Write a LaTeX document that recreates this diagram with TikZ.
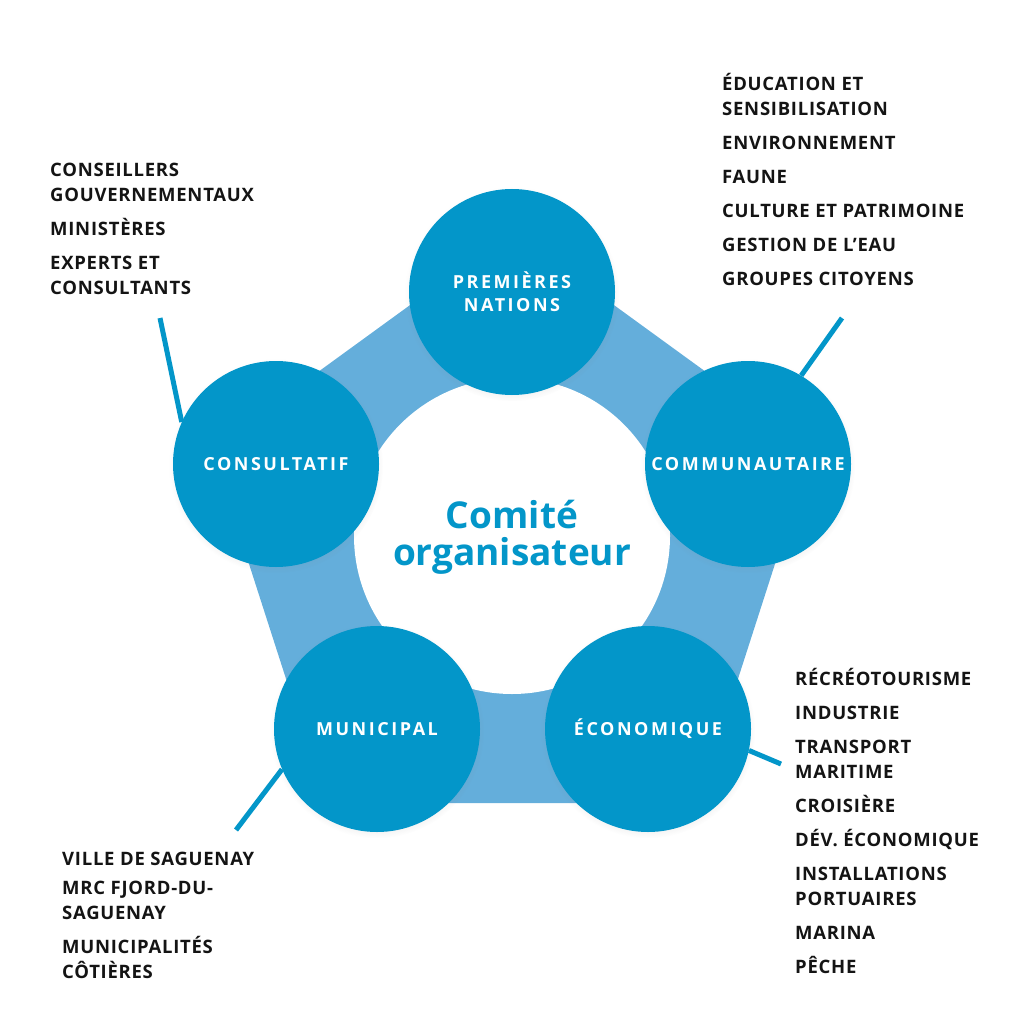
\documentclass[tikz,border=0pt]{standalone}
\usepackage{fontspec}
\setmainfont{Open Sans}
\newfontfamily\itemfont{Open Sans}[LetterSpace=4]
\newfontfamily\roundfont{Open Sans}[LetterSpace=14]
\usetikzlibrary{shadows}

\definecolor{circblue}{HTML}{0396C9}
\definecolor{bandblue}{HTML}{64AEDB}
\definecolor{inkblack}{HTML}{141414}

\begin{document}
\begin{tikzpicture}[x=1pt, y=-1pt,
    group/.style={circle, fill=circblue, minimum size=206pt, inner sep=0pt,
      text=white, font=\roundfont\bfseries\fontsize{18}{23}\selectfont, align=center,
      circular drop shadow={shadow scale=1.04, shadow xshift=0pt, shadow yshift=-2pt, opacity=0.18}},
    tick/.style={draw=circblue, line width=5pt},
    members/.style={anchor=north west, inner sep=0pt, text=inkblack, align=left,
      font=\itemfont\bfseries\fontsize{18.5}{25}\selectfont}]

    \useasboundingbox (0,0) rectangle (1024,1024);

    % outer band and the empty middle
    \fill[bandblue] (512,231) -- (812,449) -- (698,803) -- (326,803) -- (212,449) -- cycle;
    \fill[white] (512,536) circle (158pt);

    \node(center) at (512,537) [text=circblue, align=center,
      font=\bfseries\fontsize{37}{37}\selectfont] {Comité\\organisateur};

    \node(prem) at (512,292) [group] {PREMIÈRES\\NATIONS};
    \node(cons) at (276,464) [group] {CONSULTATIF};
    \node(comm) at (748,464) [group] {COMMUNAUTAIRE};
    \node(muni) at (377,729) [group] {MUNICIPAL};
    \node(econ) at (648,729) [group] {ÉCONOMIQUE};

    % free ends of the ticks
    \coordinate (consEnd) at (160,318);
    \coordinate (commEnd) at (842,318);
    \coordinate (muniEnd) at (236,830);
    \coordinate (econEnd) at (781,764);

    \draw [tick] (cons.156) -- (consEnd);
    \draw [tick] (comm.59) -- (commEnd);
    \draw [tick] (muni.203) -- (muniEnd);
    \draw [tick] (econ.348) -- (econEnd);

    % member lists
    \node(consList) at (50,163) [members] {CONSEILLERS\\GOUVERNEMENTAUX\\[9pt]MINISTÈRES\\[9pt]EXPERTS ET\\CONSULTANTS};
    \node(commList) at (722,73) [members] {ÉDUCATION ET\\SENSIBILISATION\\[9pt]ENVIRONNEMENT\\[9pt]FAUNE\\[9pt]CULTURE ET PATRIMOINE\\[9pt]GESTION DE L’EAU\\[9pt]GROUPES CITOYENS};
    \node(econList) at (795,668) [members] {RÉCRÉOTOURISME\\[9pt]INDUSTRIE\\[9pt]TRANSPORT\\MARITIME\\[9pt]CROISIÈRE\\[9pt]DÉV. ÉCONOMIQUE\\[9pt]INSTALLATIONS\\PORTUAIRES\\[9pt]MARINA\\[9pt]PÊCHE};
    \node(muniList) at (62,852) [members] {VILLE DE SAGUENAY\\[4pt]MRC FJORD-DU-\\SAGUENAY\\[9pt]MUNICIPALITÉS\\CÔTIÈRES};

\end{tikzpicture}
\end{document}
